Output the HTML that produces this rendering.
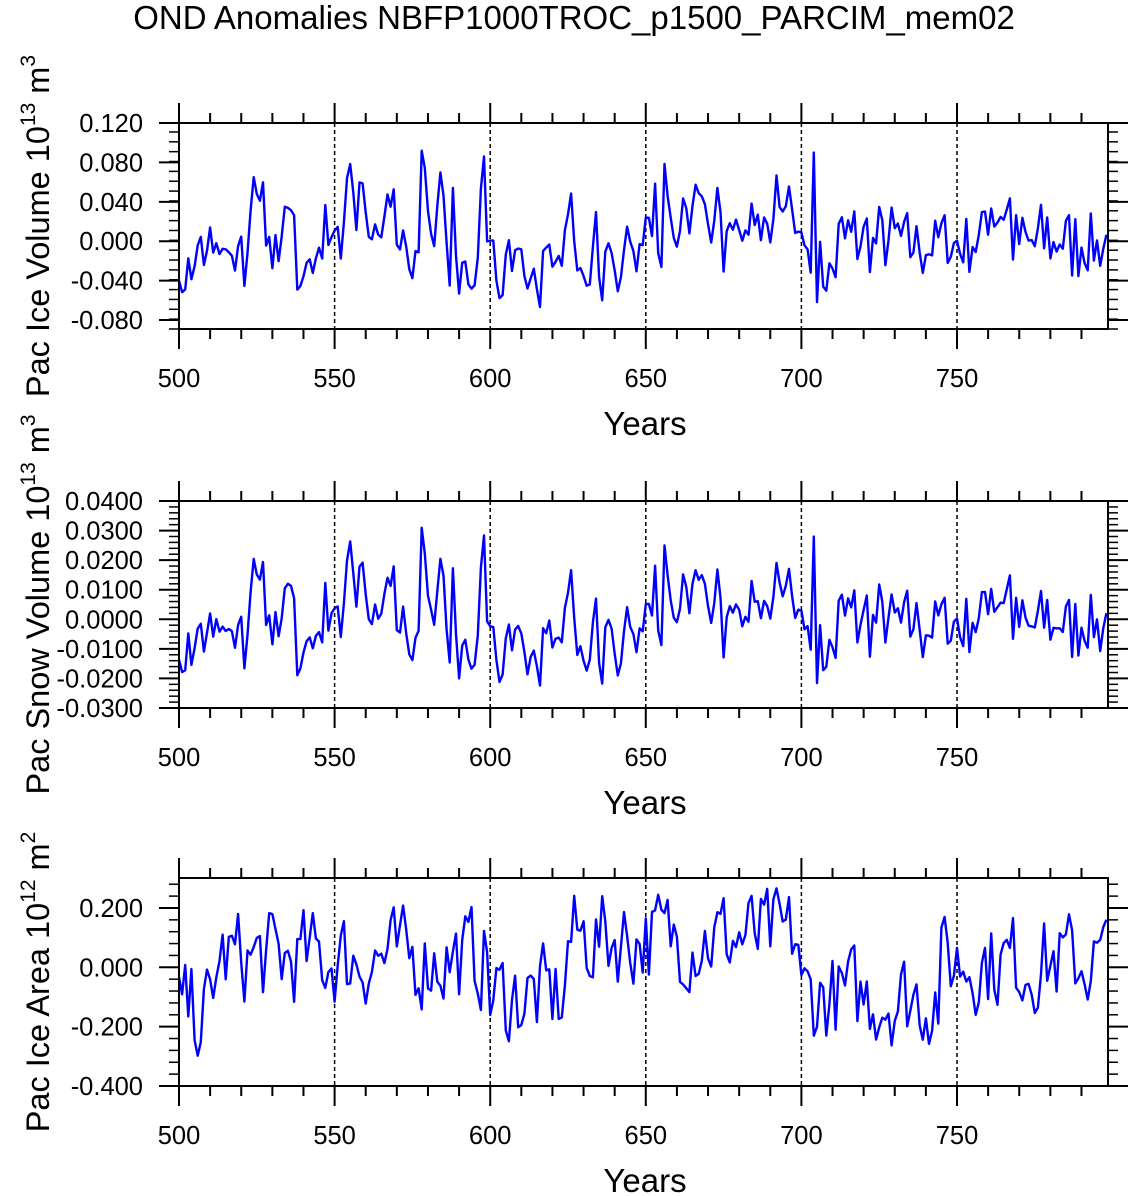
<!DOCTYPE html>
<html><head><meta charset="utf-8"><style>body{margin:0;background:#fff}svg{display:block}</style></head>
<body>
<svg id="s" width="1135" height="1196" xmlns="http://www.w3.org/2000/svg" font-family="Liberation Sans, sans-serif">
<text x="574" y="29" font-size="33" text-anchor="middle">OND Anomalies NBFP1000TROC_p1500_PARCIM_mem02</text>
</svg>
<script>
const s=document.getElementById('s');const NS='http://www.w3.org/2000/svg';
function el(t,a,txt){const e=document.createElementNS(NS,t);for(const k in a)e.setAttribute(k,a[k]);if(txt!==undefined)e.textContent=txt;s.appendChild(e);return e;}
const X0=179,X1=1108,xs=3.112;const X=y=>X0+(y-500)*xs;
let seed=7;function rnd(){seed=(seed*16807)%2147483647;return seed/2147483647;}
const p1raw=[-40,-45,-50,-15,-55,-10,5,-25,-20,15,-25,5,-30,10,-20,5,-35,0,5,-45,0,65,65,20,85,-5,0,-30,15,-35,25,45,30,35,-50,-40,-35,-15,-20,-55,25,-40,45,-5,15,10,5,-30,55,75,60,15,60,50,25,5,0,15,-5,20,45,35,60,-20,5,15,-15,-50,-10,-10,95,65,20,-5,-5,75,60,5,-40,60,-20,-65,-10,-30,-45,-55,-25,45,90,-10,5,-15,-65,-65,-30,5,-40,-5,-15,-5,-55,-40,-20,-50,-70,-15,-5,0,-40,5,-40,10,15,50,-5,-35,-20,-45,-50,-35,45,-30,-60,-10,0,-15,-40,-50,-15,20,-10,-10,-45,10,-15,55,-30,70,-10,-25,85,35,20,5,-15,45,40,5,30,60,35,50,30,5,5,60,35,-25,15,15,10,30,-10,15,0,40,10,30,-5,40,-10,10,75,40,30,35,60,30,-5,15,0,0,-40,90];
const p1=[];for(let y=500;y<=798;y++){let i=(y-500)*(p1raw.length-1)/204;if(y<=704){let a=Math.floor(i),f=i-a;p1.push((p1raw[a]*(1-f)+(p1raw[Math.min(a+1,p1raw.length-1)])*f)/1000);}else{let v=(rnd()-0.5)*70+(y<712?-30:0)+(y>758&&y<768?30:0);p1.push(v/1000);}}
for(let i=0;i<p1.length;i++)if(i%2)p1[i]+= (rnd()-0.5)*0.02;
const p2=p1.map((v,i)=>v*0.33-0.001+(rnd()-0.5)*0.004);
const p3=[];let ar=0;for(let y=500;y<=798;y++){ar=0.3*ar+(rnd()-0.5)*0.3;let base=0;if(y<512)base=-0.15;else if(y<600)base=0.03;else if(y<625)base=-0.1;else if(y<700)base=0.1;else if(y<745)base=-0.1;else base=0.02;p3.push(base+ar);}
function panel(top,bot,vTop,vBot,majors,fmt,minor,data,label,sup,unit,usup){
 const Y=v=>top+(vTop-v)/(vTop-vBot)*(bot-top);
 for(let yr=550;yr<=750;yr+=50)el('line',{x1:X(yr),x2:X(yr),y1:top,y2:bot,stroke:'#000','stroke-width':1.5,'stroke-dasharray':'4,3'});
 let d='';data.forEach((v,i)=>{d+=(i?'L':'M')+X(500+i).toFixed(1)+','+Y(Math.max(vBot,Math.min(vTop,v))).toFixed(1);});
 el('path',{d:d,fill:'none',stroke:'#00f','stroke-width':2.4,'stroke-linejoin':'round'});
 el('rect',{x:X0,y:top,width:X1-X0,height:bot-top,fill:'none',stroke:'#000','stroke-width':2});
 for(let yr=500;yr<=798;yr+=10){const big=yr%50==0;const L=big?20:10;const x=X(yr);
  el('line',{x1:x,x2:x,y1:top,y2:top-L,stroke:'#000','stroke-width':2});el('line',{x1:x,x2:x,y1:bot,y2:bot+L,stroke:'#000','stroke-width':2});
  if(big)el('text',{x:x,y:bot+58,'font-size':25.5,'text-anchor':'middle'},String(yr));}
 for(let v=vBot;v<=vTop+1e-9;v+=minor){const y=Y(v);if(y<top-0.5||y>bot+0.5)continue;
  el('line',{x1:X0,x2:X0-10,y1:y,y2:y,stroke:'#000','stroke-width':1.5});el('line',{x1:X1,x2:X1+10,y1:y,y2:y,stroke:'#000','stroke-width':1.5});}
 majors.forEach(v=>{const y=Y(v);el('line',{x1:X0,x2:X0-20,y1:y,y2:y,stroke:'#000','stroke-width':2});el('line',{x1:X1,x2:X1+20,y1:y,y2:y,stroke:'#000','stroke-width':2});
  el('text',{x:143,y:y+9,'font-size':25.5,'text-anchor':'end'},v.toFixed(fmt).replace('-0.000','0.000'));});
 el('text',{x:645,y:bot+106,'font-size':33,'text-anchor':'middle'},'Years');
 const cy=(top+bot)/2;
 const t=el('text',{x:0,y:0,'font-size':32.5,'text-anchor':'middle',transform:`translate(49,${cy}) rotate(-90)`});
 t.appendChild(document.createTextNode(label));
 const a=document.createElementNS(NS,'tspan');a.setAttribute('dy','-14');a.setAttribute('font-size','21');a.textContent=sup;t.appendChild(a);
 const b=document.createElementNS(NS,'tspan');b.setAttribute('dy','14');b.textContent=' '+unit;t.appendChild(b);
 const c=document.createElementNS(NS,'tspan');c.setAttribute('dy','-14');c.setAttribute('font-size','21');c.textContent=usup;t.appendChild(c);
}
panel(123,329,0.12,-0.0891,[0.12,0.08,0.04,0,-0.04,-0.08],3,0.01,p1,'Pac Ice Volume 10','13','m','3');
panel(501,708,0.04,-0.03,[0.04,0.03,0.02,0.01,0,-0.01,-0.02,-0.03],4,0.002,p2,'Pac Snow Volume 10','13','m','3');
panel(878,1086,0.301,-0.4,[0.2,0,-0.2,-0.4],3,0.04,p3,'Pac Ice Area 10','12','m','2');
</script>
</body></html>
